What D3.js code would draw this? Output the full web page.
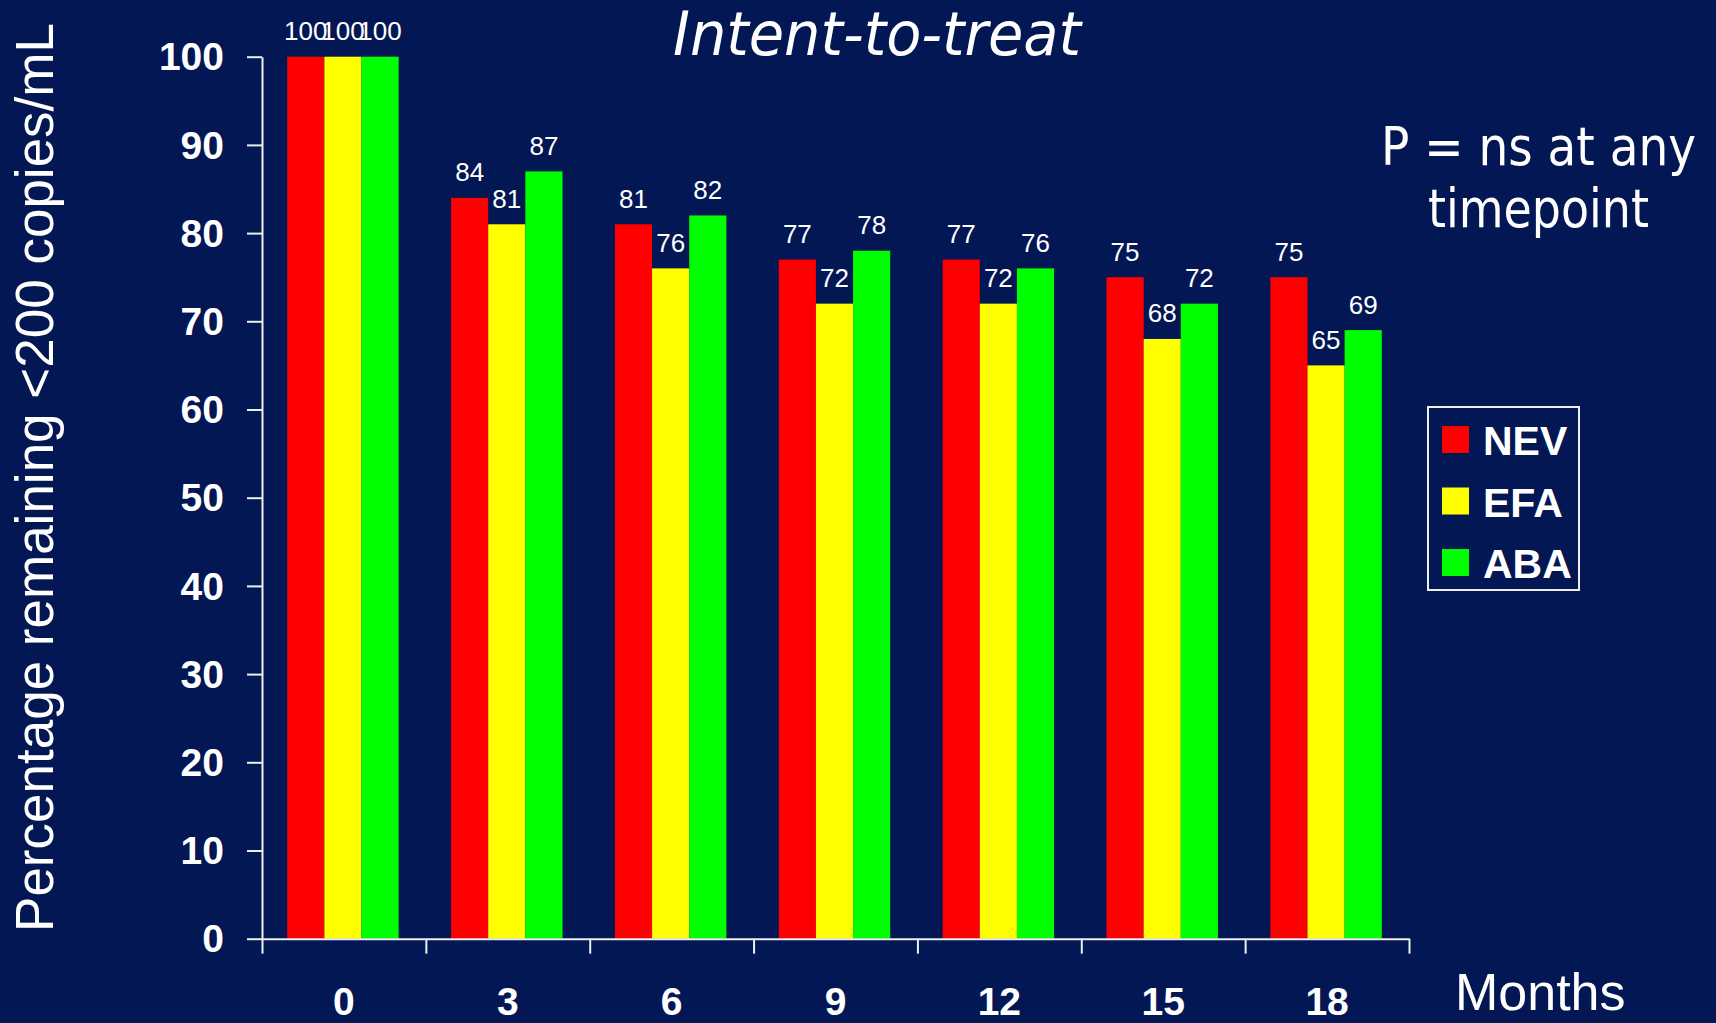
<!DOCTYPE html>
<html>
<head>
<meta charset="utf-8">
<script src="https://cdn.jsdelivr.net/npm/d3@7"></script>
<style>
  html, body { margin: 0; padding: 0; background: #021754; }
  svg { display: block; }
</style>
</head>
<body>
<svg id="chart" width="1716" height="1023"></svg>
<script>
// Time points (months) and percentage remaining <200 copies/mL per arm
const months = ["0", "3", "6", "9", "12", "15", "18"];
const seriesNames = ["NEV", "EFA", "ABA"];
const nevValues = [100, 84, 81, 77, 77, 75, 75];
const efaValues = [100, 81, 76, 72, 72, 68, 65];
const abaValues = [100, 87, 82, 78, 76, 72, 69];
const yTicks = [0, 10, 20, 30, 40, 50, 60, 70, 80, 90, 100];
const seriesColors = ["#ff0000", "#ffff00", "#00ff00"];

(function drawChart() {
  const seriesValues = [nevValues, efaValues, abaValues];
  const rows = months.map((m, i) => ({
    month: m,
    values: seriesNames.map((s, j) => ({ key: s, value: seriesValues[j][i] }))
  }));

  const svg = d3.select("#chart");
  const bg = "#021754";
  const ink = "#ffffff";
  const axisInk = "#eeeeee";

  svg.append("rect").attr("width", 1716).attr("height", 1023).attr("fill", bg);

  // Plot area
  const plotLeft = 262, plotRight = 1409, plotTop = 56.7, plotBottom = 938.7;

  const x0 = d3.scaleBand().domain(months).range([plotLeft, plotRight]).paddingInner(0).paddingOuter(0);
  const groupWidth = x0.bandwidth() * 0.68;
  const x1 = d3.scaleBand().domain(seriesNames).range([0, groupWidth]).padding(0);
  const groupOffset = (x0.bandwidth() - groupWidth) / 2 - 1;
  const y = d3.scaleLinear().domain([0, 100]).range([plotBottom, plotTop]);
  const color = d3.scaleOrdinal().domain(seriesNames).range(seriesColors);

  // Bars
  const groups = svg.append("g").selectAll("g").data(rows).join("g")
    .attr("transform", d => `translate(${x0(d.month) + groupOffset},0)`);

  groups.selectAll("rect").data(d => d.values).join("rect")
    .attr("x", d => x1(d.key))
    .attr("y", d => y(d.value))
    .attr("width", x1.bandwidth())
    .attr("height", d => y(0) - y(d.value))
    .attr("fill", d => color(d.key));

  // Value labels
  groups.selectAll("text").data(d => d.values).join("text")
    .attr("x", d => x1(d.key) + x1.bandwidth() / 2)
    .attr("y", d => y(d.value) - 16.5)
    .attr("text-anchor", "middle")
    .attr("font-family", "'Liberation Sans', Arial, sans-serif")
    .attr("font-size", 26)
    .attr("fill", ink)
    .text(d => d.value);

  // Y axis
  const yAxis = svg.append("g")
    .attr("transform", `translate(${plotLeft},0)`)
    .call(d3.axisLeft(y).tickValues(yTicks).tickSize(15).tickSizeOuter(0).tickPadding(23));
  yAxis.select(".domain").attr("stroke", axisInk).attr("stroke-width", 2);
  yAxis.selectAll(".tick line").attr("stroke", axisInk).attr("stroke-width", 2);
  yAxis.selectAll(".tick text")
    .attr("fill", ink)
    .attr("font-family", "'Liberation Sans', Arial, sans-serif")
    .attr("font-weight", "bold")
    .attr("font-size", 39)
    .attr("dy", "0.34em");

  // X axis: boundary ticks between time points
  const xEdges = d3.scaleLinear().domain([0, months.length]).range([plotLeft, plotRight]);
  const xAxisEdges = svg.append("g")
    .attr("transform", `translate(0,${plotBottom})`)
    .call(d3.axisBottom(xEdges).tickValues(d3.range(months.length + 1)).tickSize(15).tickSizeOuter(0).tickFormat(""));
  xAxisEdges.select(".domain").attr("stroke", axisInk).attr("stroke-width", 2);
  xAxisEdges.selectAll(".tick line").attr("stroke", axisInk).attr("stroke-width", 2);

  // X axis: category labels
  const xAxisLabels = svg.append("g")
    .attr("transform", `translate(0,${plotBottom})`)
    .call(d3.axisBottom(x0).tickSize(0).tickPadding(0));
  xAxisLabels.select(".domain").remove();
  xAxisLabels.selectAll(".tick text")
    .attr("fill", ink)
    .attr("font-family", "'Liberation Sans', Arial, sans-serif")
    .attr("font-weight", "bold")
    .attr("font-size", 39)
    .attr("dy", null)
    .attr("y", 76);

  // Axis titles
  svg.append("text")
    .attr("transform", `translate(53,${(23 + 932) / 2}) rotate(-90)`)
    .attr("text-anchor", "middle")
    .attr("font-family", "'Liberation Sans', Arial, sans-serif")
    .attr("font-size", 53)
    .attr("fill", ink)
    .text("Percentage remaining <200 copies/mL");

  svg.append("text")
    .attr("x", 1455).attr("y", 1010)
    .attr("font-family", "'Liberation Sans', Arial, sans-serif")
    .attr("font-size", 52)
    .attr("fill", ink)
    .text("Months");

  // Title
  svg.append("text")
    .attr("x", 673).attr("y", 55)
    .attr("font-family", "'DejaVu Sans Condensed', 'DejaVu Sans', sans-serif")
    .attr("font-stretch", "condensed")
    .attr("font-style", "italic")
    .attr("font-size", 60)
    .attr("textLength", 408)
    .attr("lengthAdjust", "spacingAndGlyphs")
    .attr("fill", ink)
    .text("Intent-to-treat");

  // Significance note
  const note = [
    { text: "P = ns at any", x: 1381, y: 165, w: 315 },
    { text: "timepoint", x: 1428, y: 227, w: 221 }
  ];
  svg.append("g").selectAll("text").data(note).join("text")
    .attr("x", d => d.x).attr("y", d => d.y)
    .attr("font-family", "'DejaVu Sans Condensed', 'DejaVu Sans', sans-serif")
    .attr("font-stretch", "condensed")
    .attr("font-size", 54)
    .attr("textLength", d => d.w)
    .attr("lengthAdjust", "spacingAndGlyphs")
    .attr("fill", ink)
    .text(d => d.text);

  // Legend
  const legend = svg.append("g");
  legend.append("rect")
    .attr("x", 1428).attr("y", 407)
    .attr("width", 151).attr("height", 183)
    .attr("fill", "none")
    .attr("stroke", axisInk)
    .attr("stroke-width", 2);

  const legendItems = legend.selectAll("g").data(seriesNames).join("g")
    .attr("transform", (d, i) => `translate(1442,${426 + i * 61.5})`);
  legendItems.append("rect")
    .attr("width", 27).attr("height", 27)
    .attr("fill", d => color(d));
  legendItems.append("text")
    .attr("x", 41).attr("y", 29)
    .attr("font-family", "'Liberation Sans', Arial, sans-serif")
    .attr("font-weight", "bold")
    .attr("font-size", 41)
    .attr("fill", ink)
    .text(d => d);
})();
</script>
</body>
</html>
